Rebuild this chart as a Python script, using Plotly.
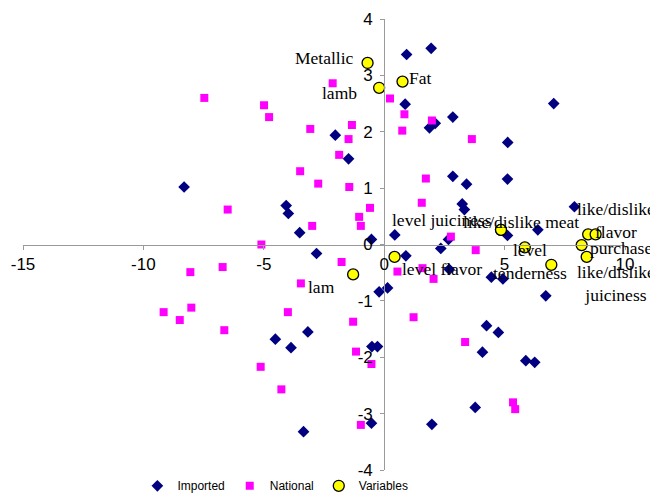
import plotly.graph_objects as go

# ---------------- data ----------------
imported_x = [-8.31, -4.07, -3.98, -3.51, -2.03, -1.48, -0.53, 0.44, 0.93, 1.95,
              0.87, 1.88, 2.12, 2.85, 5.13, 7.04, 2.85, 3.42, 5.12, 3.24,
              3.33, 2.67, 5.12, 6.38, 7.90, 2.35, 0.90, 2.70, 4.45, 4.93,
              6.71, -0.21, 0.14, -0.51, -0.28, -0.53, 1.98, 4.08, 4.25, 4.74,
              3.78, 5.88, 6.25, -2.81, -3.17, -4.52, -3.87, -3.35]
imported_y = [1.02, 0.69, 0.55, 0.21, 1.94, 1.52, 0.09, 0.17, 3.37, 3.48,
              2.49, 2.07, 2.15, 2.26, 1.81, 2.50, 1.21, 1.07, 1.16, 0.72,
              0.62, 0.09, 0.16, 0.26, 0.67, -0.07, -0.20, -0.44, -0.58, -0.61,
              -0.91, -0.84, -0.77, -1.81, -1.81, -3.17, -3.19, -1.91, -1.44, -1.56,
              -2.89, -2.06, -2.09, -0.16, -1.55, -1.68, -1.83, -3.32]

national_x = [-7.47, -4.99, -4.78, -3.07, -3.49, -2.74, -6.50, -2.99, -5.10, -2.14,
              0.24, 0.84, 0.75, 1.98, 3.64, -1.34, -1.48, -1.87, -1.45, -0.59,
              -1.04, -0.97, 1.73, 1.56, 2.77, 3.80, 0.55, 1.59, 2.05, -1.77,
              1.22, -1.29, -1.17, -0.53, -0.97, 3.36, 5.35, 5.44, -8.05, -6.71,
              -3.46, -9.16, -8.49, -8.01, -6.64, -4.00, -5.13, -4.27]
national_y = [2.60, 2.47, 2.26, 2.05, 1.30, 1.08, 0.62, 0.33, 0.00, 2.86,
              2.59, 2.31, 2.02, 2.20, 1.87, 2.12, 1.87, 1.59, 1.02, 0.65,
              0.49, 0.33, 1.17, 0.74, 0.14, -0.10, -0.48, -0.42, -0.61, -0.31,
              -1.29, -1.37, -1.90, -2.12, -3.20, -1.73, -2.80, -2.92, -0.49, -0.40,
              -0.69, -1.20, -1.34, -1.12, -1.52, -1.20, -2.17, -2.57]

variable_names = ["Metallic", "lamb", "Fat", "lam", "level flavor",
                  "level juiciness", "like/dislike meat", "level<br>tenderness", "",
                  "purchase", "", "like/dislike<br>flavor", "like/dislike<br>juiciness"]
variable_x = [-0.69, -0.21, 0.76, -1.29, 0.43, 4.85, 4.85, 5.84, 6.94, 8.20, 8.47, 8.78, 8.41]
variable_y = [3.22, 2.78, 2.89, -0.53, -0.22, 0.26, 0.26, -0.05, -0.36, -0.01, 0.18, 0.18, -0.22]

x_tick_vals = [-15, -10, -5, 0, 5, 10]
x_tick_text = ["-15", "-10", "-5", "0", "5", "10"]
y_tick_vals = [-4, -3, -2, -1, 0, 1, 2, 3, 4]
y_tick_text = ["-4", "-3", "-2", "-1", "0", "1", "2", "3", "4"]

# label placement styles (anchor, pixel shifts)
label_style = {
    "Metallic": ("right", -12, 5),
    "lamb": ("right", -20, -5),
    "Fat": ("left", 4, 4),
    "lam": ("right", -16, -13),
    "level flavor": ("left", 5, -12),
    "level juiciness": ("right", -7, 10),
    "like/dislike meat": ("center", 20, 8),
    "level<br>tenderness": ("center", 5, -14),
    "purchase": ("left", 6, -3),
    "like/dislike<br>flavor": ("center", 20, 14),
    "like/dislike<br>juiciness": ("center", 29, -27),
}

fig = go.Figure()
fig.add_trace(go.Scatter(x=imported_x, y=imported_y, mode="markers", name="Imported",
                         marker=dict(symbol="diamond", size=9, color="#000080")))
fig.add_trace(go.Scatter(x=national_x, y=national_y, mode="markers", name="National",
                         marker=dict(symbol="square", size=8, color="#FF00FF")))
fig.add_trace(go.Scatter(x=variable_x, y=variable_y, mode="markers", name="Variables",
                         marker=dict(symbol="circle", size=11, color="#FFFF00",
                                     line=dict(color="#000000", width=1.3))))

for name, vx, vy in zip(variable_names, variable_x, variable_y):
    if not name:
        continue
    anchor, dx, dy = label_style[name]
    fig.add_annotation(x=vx, y=vy, text=name, showarrow=False,
                       xanchor=anchor, yanchor="middle", align="center",
                       xshift=dx, yshift=dy,
                       font=dict(family="Liberation Serif", size=17.5, color="#000000"))

axis_common = dict(showgrid=False, zeroline=False, showline=True, linecolor="#9a9a9a",
                   linewidth=1, ticks="outside", ticklen=4, tickcolor="#9a9a9a",
                   tickfont=dict(family="Liberation Sans", size=17, color="#000000"),
                   anchor="free", automargin=False)

# the page body adds an 8px offset, so the figure is 650x486 to fill the 658x494 window
fig.update_layout(
    width=650, height=486,
    margin=dict(l=15, r=33, t=11, b=24, autoexpand=False),
    paper_bgcolor="white", plot_bgcolor="white",
    xaxis=dict(range=[-15, 10], tickvals=x_tick_vals, ticktext=x_tick_text,
               position=0.5, side="bottom", domain=[0, 1], **axis_common),
    yaxis=dict(range=[-4, 4], tickvals=y_tick_vals, ticktext=y_tick_text,
               position=0.6, side="left", domain=[0, 1], ticklabelstandoff=4,
               **axis_common),
    showlegend=True,
    legend=dict(orientation="h", x=0.19, xanchor="left", y=-0.035, yanchor="middle",
                font=dict(family="Liberation Sans", size=12, color="#000000"),
                bgcolor="rgba(0,0,0,0)"),
)

fig.write_html("out.html")
